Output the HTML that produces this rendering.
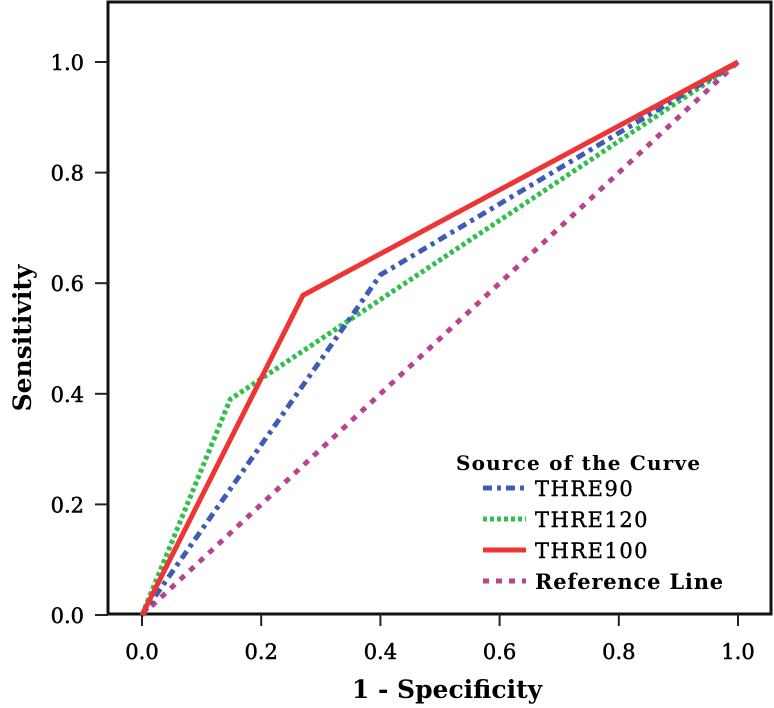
<!DOCTYPE html>
<html><head><meta charset="utf-8"><style>
html,body{margin:0;padding:0;background:#fff;}
svg{display:block;font-family:"DejaVu Serif","Liberation Serif",serif;}
</style></head><body>
<svg id="chart" width="774" height="708">
<rect x="108" y="2" width="663" height="612" fill="#fff" stroke="#111" stroke-width="3"/>
<g id="axes"></g>
<g id="series"></g>
<text x="447" y="698" text-anchor="middle" font-size="25" font-weight="bold">1 - Specificity</text>
<text transform="translate(31,338) rotate(-90)" text-anchor="middle" font-size="25" font-weight="bold">Sensitivity</text>
<g>
<text x="456" y="470" font-size="20" font-weight="bold" letter-spacing="1.2">Source of the Curve</text>
<g id="legend-items"></g>
</g>
</svg>
<script>
const xTicks=[0,0.2,0.4,0.6,0.8,1.0];
const yTicks=[0,0.2,0.4,0.6,0.8,1.0];
const tickLabels=["0.0","0.2","0.4","0.6","0.8","1.0"];
const seriesNames=["THRE90","THRE120","THRE100","Reference Line"];
const thre90X=[0,0.40,1];
const thre90Y=[0,0.615,1];
const thre120X=[0,0.148,1];
const thre120Y=[0,0.39,1];
const thre100X=[0,0.27,1];
const thre100Y=[0,0.578,1];
const refX=[0,1];
const refY=[0,1];
const NS="http://www.w3.org/2000/svg";
function sx(v){return 142+v*596;}
function sy(v){return 615-v*553;}
function mk(tag,attrs,parent){const e=document.createElementNS(NS,tag);for(const k in attrs)e.setAttribute(k,attrs[k]);parent.appendChild(e);return e;}
const axes=document.getElementById('axes');
xTicks.forEach((t,i)=>{
  const l=mk('line',{x1:sx(t),x2:sx(t),y1:614,y2:626,stroke:'#222','stroke-width':2},axes);
  
  
  const tx=mk('text',{x:sx(t),y:659,'text-anchor':'middle','font-size':21,stroke:'#000','stroke-width':0.5},axes);
  tx.textContent=tickLabels[i];
  
  
});
yTicks.forEach((t,i)=>{
  const l=mk('line',{x1:95,x2:108,y1:sy(t),y2:sy(t),stroke:'#222','stroke-width':2},axes);
  
  
  const tx=mk('text',{x:84,y:sy(t)+8,'text-anchor':'end','font-size':21,stroke:'#000','stroke-width':0.5},axes);
  tx.textContent=tickLabels[i];
  
  
});
const styles=[
 {c:'#3f5bb5',d:'9 5 4 5',w:5},
 {c:'#2fbf4a',d:'4 3',w:5},
 {c:'#ee3535',d:'',w:5},
 {c:'#b8438e',d:'6 7',w:5}
];
const data=[[thre90X,thre90Y],[thre120X,thre120Y],[thre100X,thre100Y],[refX,refY]];
const names=['thre90-line','thre120-line','thre100-line','reference-line'];
const order=[3,1,0,2];
const sg=document.getElementById('series');
order.forEach(i=>{
  const [xs,ys]=data[i];
  const pts=xs.map((x,j)=>sx(x)+','+sy(ys[j])).join(' ');
  const p=mk('polyline',{points:pts,fill:'none',stroke:styles[i].c,'stroke-width':styles[i].w,'stroke-dasharray':styles[i].d},sg);
  
  
});
const lg=document.getElementById('legend-items');
seriesNames.forEach((n,i)=>{
  const y=494+i*31;
  const l=mk('line',{x1:483,x2:526,y1:y-6,y2:y-6,stroke:styles[i].c,'stroke-width':5,'stroke-dasharray':styles[i].d},lg);
  
  
  const t=mk('text',{x:535,y:y+2,'font-size':21,'letter-spacing':i==3?0.8:1.5,'font-weight':i==3?'bold':'normal',stroke:'#000','stroke-width':i==3?0:0.4},lg);
  t.textContent=n;
  
  
});
</script>
</body></html>
